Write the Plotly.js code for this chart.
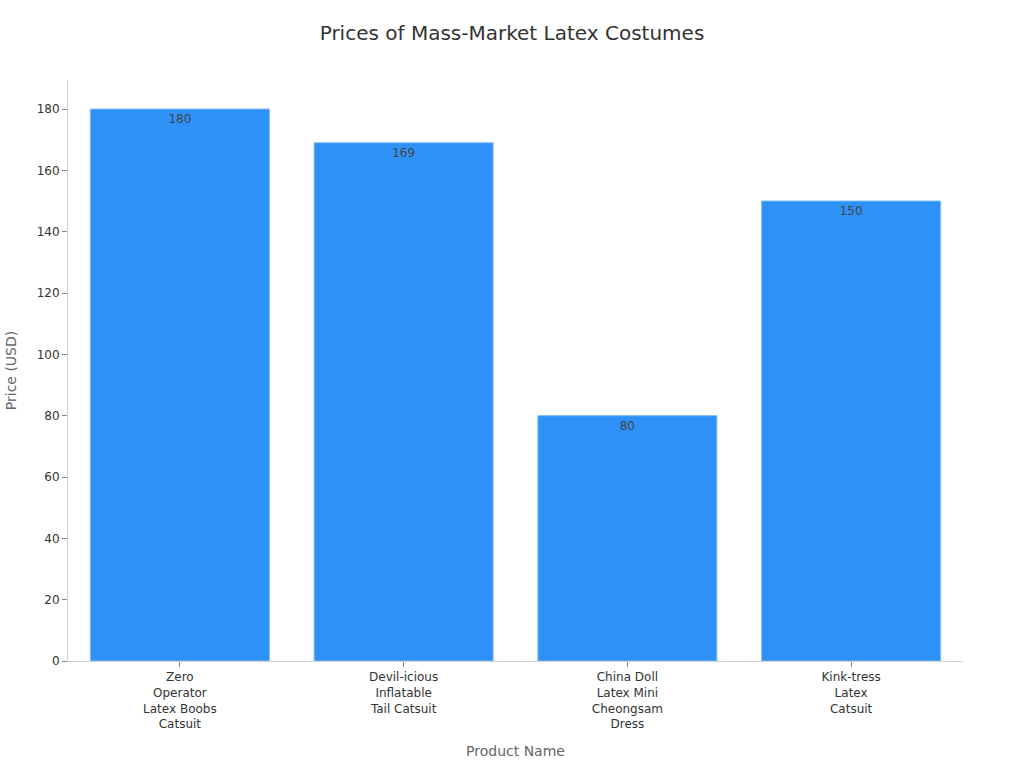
<!DOCTYPE html>
<html>
<head>
<meta charset="utf-8">
<script src="https://cdn.plot.ly/plotly-3.0.1.min.js"></script>
<style>
  html, body { margin: 0; padding: 0; background: #fff; }
  #plot { width: 1024px; height: 768px; }
</style>
</head>
<body>
<div id="plot"></div>
<script>
// Chart data
const products = [
  'Zero<br>Operator<br>Latex Boobs<br>Catsuit',
  'Devil-icious<br>Inflatable<br>Tail Catsuit',
  'China Doll<br>Latex Mini<br>Cheongsam<br>Dress',
  'Kink-tress<br>Latex<br>Catsuit'
]
const prices = [180, 169, 80, 150]
const price_ticks = [0, 20, 40, 60, 80, 100, 120, 140, 160, 180]

let plot_div = document.getElementById('plot')

let trace = {
  type : 'bar',
  x : products,
  y : prices,
  text : prices.map(String),
  textposition : 'inside',
  insidetextanchor : 'end',
  textfont : {color : '#444444', size : 12, family : 'DejaVu Sans'},
  marker : {color : '#2E91F8', line : {color : '#7DBAFB', width : 1}},
  hoverinfo : 'x+y'
}

let axis_style = {
  showline : true,
  linecolor : '#d0d0d0',
  linewidth : 1,
  ticks : 'outside',
  ticklen : 5,
  tickcolor : '#888888',
  showgrid : false,
  zeroline : false,
  tickfont : {size : 12, color : '#333333'}
}

let layout = {
  width : 1024,
  height : 768,
  margin : {l : 68, r : 61, t : 80, b : 107},
  font : {family : 'DejaVu Sans', color : '#333333'},
  title : {
    text : 'Prices of Mass-Market Latex Costumes',
    x : 0.5,
    xanchor : 'center',
    y : 0.957,
    yanchor : 'middle',
    yref : 'container',
    font : {size : 20, color : '#333333'}
  },
  bargap : 0.2,
  showlegend : false,
  plot_bgcolor : '#ffffff',
  paper_bgcolor : '#ffffff',
  xaxis : Object.assign({}, axis_style, {
    title : {text : 'Product Name', font : {size : 14, color : '#666666'}, standoff : 15},
    automargin : true
  }),
  yaxis : Object.assign({}, axis_style, {
    title : {text : 'Price (USD)', font : {size : 14, color : '#666666'}, standoff : 16},
    tickvals : price_ticks,
    range : [0, 189.47],
    automargin : true
  })
}

Plotly.newPlot(plot_div, [trace], layout, {displayModeBar : false})
</script>
</body>
</html>
